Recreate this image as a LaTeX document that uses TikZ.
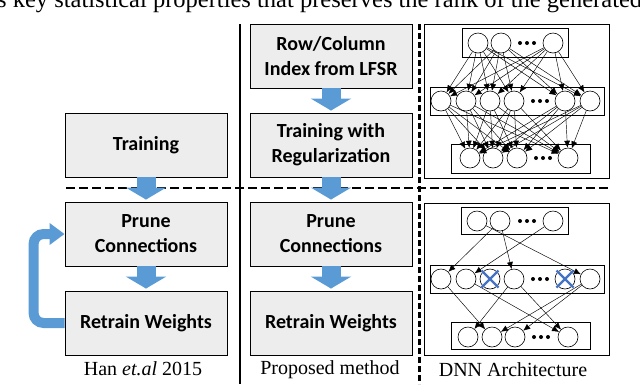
\documentclass[tikz,border=0pt]{standalone}
\usepackage{fontspec}
\setmainfont{Liberation Serif}
\setsansfont{Carlito}
\usetikzlibrary{arrows.meta,positioning}
\definecolor{myblue}{RGB}{91,155,213}
\definecolor{mygray}{RGB}{237,237,237}
\definecolor{mycross}{RGB}{68,114,196}

\begin{document}
\begin{tikzpicture}[x=1pt,y=-1pt,
  stepbox/.style={draw,fill=mygray,line width=0.9pt,minimum width=162pt,minimum height=64pt,inner sep=0pt,align=center,font=\sffamily\bfseries\fontsize{20}{25}\selectfont},
  neuron/.style={circle,draw,line width=0.6pt,minimum size=20pt,inner sep=0pt},
  layer/.style={draw,line width=0.7pt},
  blockarrow/.style={myblue,line width=19pt,-{Triangle[length=12pt,width=40pt]},shorten >=2pt},
  link/.style={line width=0.45pt,-{Latex[length=7pt,width=6pt]}},
  caption/.style={font=\fontsize{20}{24}\selectfont}]
\useasboundingbox (0,0) rectangle (640,384);

% line of the page above the figure
\node[anchor=base west,inner sep=0pt,font=\fontsize{24.5}{28}\selectfont] (pagetext) at (-3,7) {s key statistical properties that preserves the rank of the generated};

% separators
\draw[line width=1.8pt,dash pattern=on 9pt off 4pt] (66,188) -- (611,188);
\draw[line width=1.8pt] (240,24) -- (240,384);
\draw[line width=3pt,dash pattern=on 6pt off 3pt] (419,24) -- (419,384);

% Han et.al 2015
\node[stepbox] (trainL) at (146,145) {Training};
\node[stepbox] (pruneL) at (146,234) {Prune\\Connections};
\node[stepbox] (retrainL) at (146,323) {Retrain Weights};
\node[caption] (capL) at (143,369) {Han \textit{et.al} 2015};
\draw[blockarrow] (trainL) -- (pruneL);
\draw[blockarrow] (pruneL) -- (retrainL);
\draw[myblue,line width=10pt,rounded corners=10pt,-{Triangle[length=15pt,width=21pt]}] (retrainL.west) -- ++(-31,0) |- (pruneL.west);

% proposed method
\node[stepbox] (lfsr) at (331,56) {Row/Column\\Index from LFSR};
\node[stepbox] (trainM) at (331,145) {Training with\\Regularization};
\node[stepbox] (pruneM) at (331,234) {Prune\\Connections};
\node[stepbox] (retrainM) at (331,323) {Retrain Weights};
\node[caption] (capM) at (330,370) {Proposed method};
\draw[blockarrow] (lfsr) -- (trainM);
\draw[blockarrow] (trainM) -- (pruneM);
\draw[blockarrow] (pruneM) -- (retrainM);

% DNN, fully connected
\draw[layer] (424,24) rectangle (609,178);
\draw[layer] (462,28) rectangle (568,57);
\draw[layer] (430,87) rectangle (604,115);
\draw[layer] (451,144) rectangle (590,173);
\foreach \n/\x in {1/478,2/501,3/553} \node[neuron] (ua\n) at (\x,43) {};
\foreach \n/\x in {1/441,2/466,3/490,4/514,5/565,6/590} \node[neuron] (ub\n) at (\x,101) {};
\foreach \n/\x in {1/470,2/493,3/517,4/568} \node[neuron] (uc\n) at (\x,158) {};
\foreach \x in {520,527,534} \fill (\x,43) circle (2pt);
\foreach \x in {533,540,547} \fill (\x,101) circle (2pt);
\foreach \x in {536,543,550} \fill (\x,158) circle (2pt);
\foreach \i in {1,2,3}
  \foreach \j in {1,...,6} \draw[link] (ua\i) -- (ub\j);
\foreach \i in {1,...,6}
  \foreach \j in {1,...,4} \draw[link] (ub\i) -- (uc\j);

% DNN, pruned
\draw[layer] (424,203) rectangle (609,355);
\draw[layer] (461,207) rectangle (568,234);
\draw[layer] (430,265) rectangle (604,293);
\draw[layer] (451,322) rectangle (590,349);
\foreach \n/\x in {1/477,2/500,3/553} \node[neuron] (la\n) at (\x,221) {};
\foreach \n/\x in {1/441,2/466,3/490,4/514,5/565,6/590} \node[neuron] (lb\n) at (\x,279) {};
\foreach \n/\x in {1/468,2/492,3/515,4/568} \node[neuron] (lc\n) at (\x,337) {};
\foreach \x in {520,527,534} \fill (\x,221) circle (2pt);
\foreach \x in {533,540,547} \fill (\x,279) circle (2pt);
\foreach \x in {534,541,548} \fill (\x,337) circle (2pt);
\foreach \a/\b in {la2/lb1,la3/lb2,la2/lb4,la1/lb6,lb1/lc2,lb2/lc4,lb4/lc1,lb4/lc4,lb6/lc2,lb6/lc3}
  \draw[link] (\a) -- (\b);
\foreach \n in {lb3,lb5}{
  \draw[mycross,line width=2.2pt] ([shift={(-8.5,-8.5)}]\n.center) -- ([shift={(8.5,8.5)}]\n.center);
  \draw[mycross,line width=2.2pt] ([shift={(-8.5,8.5)}]\n.center) -- ([shift={(8.5,-8.5)}]\n.center);
}
\node[caption] (capR) at (513,370) {DNN Architecture};
\end{tikzpicture}
\end{document}
